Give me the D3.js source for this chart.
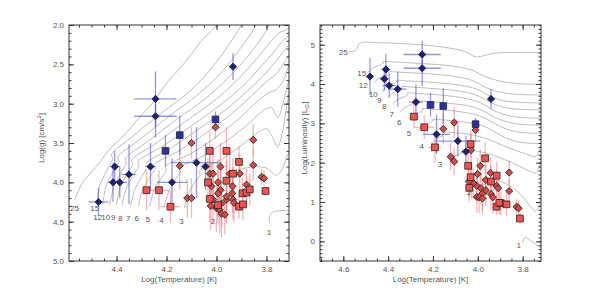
<!DOCTYPE html>
<html>
<head>
<meta charset="utf-8">
<script src="https://cdn.jsdelivr.net/npm/d3@7/dist/d3.min.js"></script>
<style>
body { margin: 0; background: #fff; }
text { font-family: "Liberation Sans", Arial, sans-serif; fill: #555; }
</style>
</head>
<body>
<svg id="chart" width="598" height="296"></svg>
<script>
// ---- axis ranges and tick labels ----
var tempDomainG = [4.59, 3.71];
var gravDomain = [2.0, 5.0];
var tempDomainL = [4.704, 3.718];
var lumDomain = [-0.5, 5.5];
var tempTicksG = [4.4, 4.2, 4.0, 3.8];
var gravTicks = [2.0, 2.5, 3.0, 3.5, 4.0, 4.5, 5.0];
var tempTicksL = [4.6, 4.4, 4.2, 4.0, 3.8];
var lumTicks = [0, 1, 2, 3, 4, 5];

// ---- evolutionary tracks (solar masses) ----
var trackMasses = ["25", "15", "12", "10", "9", "8", "7", "6", "5", "4", "3", "2", "1"];

// log T , log g
var tracksG = [
  [[4.567,4.22],[4.535,4.00],[4.48,3.80],[4.43,3.59],[4.36,3.37],[4.31,3.18],[4.255,2.99],[4.20,2.74],[4.135,2.51],[4.067,2.23],[4.0,2.0],[3.95,1.8]],
  [[4.478,4.27],[4.465,4.02],[4.43,3.80],[4.415,3.70],[4.42,3.65],[4.33,3.40],[4.22,3.12],[4.11,2.85],[4.02,2.55],[3.95,2.25],[3.90,2.0],[3.87,1.85]],
  [[4.455,4.28],[4.44,4.03],[4.405,3.82],[4.39,3.73],[4.395,3.68],[4.30,3.44],[4.19,3.16],[4.08,2.90],[3.98,2.60],[3.91,2.32],[3.85,2.05],[3.83,1.9]],
  [[4.427,4.29],[4.41,4.05],[4.375,3.84],[4.36,3.75],[4.365,3.70],[4.27,3.47],[4.16,3.20],[4.05,2.95],[3.95,2.66],[3.87,2.38],[3.81,2.12],[3.79,2.0],[3.78,1.9]],
  [[4.401,4.29],[4.385,4.06],[4.35,3.85],[4.335,3.77],[4.34,3.72],[4.24,3.50],[4.13,3.24],[4.02,2.99],[3.92,2.71],[3.84,2.43],[3.78,2.20],[3.75,2.10],[3.72,2.06],[3.70,2.0]],
  [[4.378,4.29],[4.36,4.07],[4.325,3.87],[4.31,3.79],[4.315,3.74],[4.21,3.53],[4.10,3.28],[3.99,3.03],[3.89,2.76],[3.82,2.52],[3.77,2.34],[3.74,2.22],[3.72,2.16],[3.70,2.1]],
  [[4.344,4.30],[4.325,4.08],[4.29,3.88],[4.275,3.80],[4.28,3.76],[4.18,3.56],[4.07,3.32],[3.96,3.07],[3.87,2.82],[3.80,2.60],[3.76,2.45],[3.73,2.33],[3.71,2.25]],
  [[4.312,4.30],[4.295,4.09],[4.26,3.90],[4.245,3.82],[4.25,3.78],[4.15,3.60],[4.04,3.37],[3.94,3.13],[3.86,2.90],[3.80,2.72],[3.76,2.62],[3.73,2.48],[3.71,2.38]],
  [[4.267,4.31],[4.25,4.10],[4.215,3.92],[4.20,3.84],[4.205,3.80],[4.10,3.63],[4.00,3.42],[3.91,3.19],[3.84,2.98],[3.79,2.86],[3.76,2.82],[3.735,2.72],[3.715,2.55],[3.70,2.45]],
  [[4.21,4.31],[4.19,4.11],[4.16,3.94],[4.145,3.86],[4.15,3.82],[4.05,3.66],[3.95,3.45],[3.87,3.25],[3.81,3.08],[3.78,3.05],[3.765,3.13],[3.755,3.18],[3.745,3.12],[3.73,2.95],[3.715,2.75],[3.70,2.6]],
  [[4.129,4.33],[4.11,4.13],[4.08,3.97],[4.065,3.90],[4.07,3.86],[3.98,3.71],[3.90,3.53],[3.84,3.38],[3.80,3.32],[3.78,3.40],[3.765,3.50],[3.755,3.55],[3.745,3.48],[3.73,3.25],[3.715,2.95],[3.70,2.75]],
  [[4.0,4.35],[3.985,4.15],[3.96,3.99],[3.95,3.92],[3.955,3.88],[3.90,3.83],[3.84,3.80],[3.80,3.82],[3.775,3.88],[3.76,3.91],[3.745,3.87],[3.73,3.78],[3.715,3.65],[3.70,3.55]],
  [[3.789,4.52],[3.787,4.42],[3.78,4.39],[3.767,4.37],[3.734,4.36],[3.70,4.35]]
];

// log T , log L
var tracksL = [
  [[4.578,4.82],[4.55,4.84],[4.54,4.90],[4.53,5.02],[4.515,5.06],[4.45,5.05],[4.35,5.03],[4.17,4.95],[4.06,4.83],[4.01,4.69],[3.98,4.71],[3.93,4.78],[3.85,4.80],[3.70,4.80]],
  [[4.49,4.30],[4.47,4.40],[4.43,4.50],[4.42,4.54],[4.425,4.57],[4.38,4.56],[4.25,4.52],[4.12,4.46],[4.03,4.36],[3.97,4.20],[3.90,4.07],[3.82,4.01],[3.70,3.99]],
  [[4.463,4.03],[4.445,4.13],[4.405,4.24],[4.395,4.28],[4.40,4.31],[4.35,4.30],[4.22,4.26],[4.10,4.19],[4.02,4.08],[3.96,3.90],[3.89,3.78],[3.80,3.73],[3.70,3.72]],
  [[4.427,3.80],[4.41,3.91],[4.37,4.02],[4.36,4.06],[4.365,4.09],[4.32,4.08],[4.20,4.04],[4.08,3.97],[4.0,3.86],[3.95,3.70],[3.88,3.57],[3.80,3.53],[3.70,3.52]],
  [[4.401,3.64],[4.385,3.75],[4.345,3.86],[4.335,3.90],[4.34,3.93],[4.29,3.92],[4.17,3.87],[4.06,3.80],[3.99,3.68],[3.94,3.52],[3.87,3.39],[3.79,3.35],[3.70,3.34]],
  [[4.378,3.49],[4.36,3.59],[4.32,3.70],[4.31,3.74],[4.315,3.77],[4.27,3.76],[4.15,3.71],[4.05,3.63],[3.98,3.50],[3.93,3.33],[3.86,3.19],[3.78,3.14],[3.70,3.13]],
  [[4.344,3.29],[4.327,3.39],[4.29,3.50],[4.28,3.54],[4.285,3.57],[4.24,3.56],[4.13,3.51],[4.03,3.43],[3.97,3.30],[3.92,3.14],[3.85,3.01],[3.77,2.96],[3.70,2.96]],
  [[4.312,3.09],[4.295,3.19],[4.255,3.30],[4.245,3.34],[4.25,3.37],[4.20,3.36],[4.10,3.31],[4.01,3.22],[3.95,3.08],[3.90,2.92],[3.84,2.80],[3.76,2.75],[3.70,2.75]],
  [[4.267,2.81],[4.25,2.92],[4.21,3.03],[4.20,3.07],[4.205,3.10],[4.16,3.09],[4.06,3.03],[3.98,2.94],[3.93,2.80],[3.88,2.64],[3.82,2.53],[3.75,2.49],[3.70,2.49]],
  [[4.21,2.47],[4.19,2.58],[4.155,2.70],[4.145,2.74],[4.15,2.77],[4.10,2.76],[4.02,2.70],[3.95,2.59],[3.89,2.44],[3.83,2.31],[3.78,2.21],[3.755,2.16],[3.745,2.15],[3.735,2.20],[3.725,2.31],[3.715,2.45],[3.71,2.55]],
  [[4.129,2.02],[4.11,2.13],[4.075,2.25],[4.065,2.29],[4.07,2.32],[4.03,2.31],[3.96,2.24],[3.90,2.12],[3.84,1.98],[3.79,1.84],[3.76,1.76],[3.745,1.73],[3.735,1.78],[3.725,1.92],[3.715,2.07],[3.71,2.15]],
  [[4.0,1.29],[3.985,1.40],[3.955,1.52],[3.945,1.56],[3.95,1.59],[3.92,1.57],[3.87,1.45],[3.82,1.25],[3.785,1.03],[3.76,0.85],[3.745,0.76],[3.735,0.80],[3.725,0.97],[3.715,1.20],[3.71,1.35]],
  [[3.80,-0.035],[3.795,0.05],[3.79,0.10],[3.78,0.08],[3.765,0.02],[3.75,-0.04],[3.73,-0.12],[3.71,-0.19]]
];

// where the mass labels sit
var labelPosG = [[4.568,4.33],[4.487,4.33],[4.475,4.44],[4.443,4.44],[4.413,4.44],[4.385,4.45],[4.353,4.45],[4.319,4.46],[4.275,4.47],[4.22,4.48],[4.14,4.50],[4.014,4.49],[3.79,4.64]];
var labelPosL = [[4.60,4.82],[4.518,4.27],[4.511,3.97],[4.466,3.75],[4.44,3.59],[4.417,3.44],[4.384,3.24],[4.35,3.04],[4.307,2.76],[4.25,2.42],[4.169,1.97],[4.038,1.24],[3.817,-0.11]];

// ---- stars: log T, value, error in log T, error in value ----
var blueDiamondsG = [
  [3.934,2.53,0.015,0.17],[4.244,2.94,0.085,0.35],[4.244,3.16,0.085,0.27],[4.407,3.80,0.02,0.2],
  [4.414,4.00,0.02,0.25],[4.387,4.00,0.03,0.2],[4.350,3.90,0.03,0.38],[4.472,4.25,0.04,0.18],
  [4.264,3.80,0.02,0.3],[4.178,4.00,0.06,0.3],[4.080,3.75,0.10,0.45],[4.044,3.80,0.02,0.3]
];
var blueSquaresG = [[4.204,3.60,0.015,0.2],[4.147,3.40,0,0.25],[4.004,3.20,0,0.1]];
var redSquaresG = [
  [4.28,4.10,0,0.25],[4.23,4.10,0.04,0.25],[4.184,4.31,0.04,0.2],[4.027,3.60,0,0.25],
  [4.034,4.00,0,0.3],[4.027,4.21,0,0.3],[3.994,4.29,0,0.25],[3.960,3.60,0,0.3],
  [3.960,3.98,0,0.25],[3.934,3.89,0,0.2],[3.910,3.74,0,0.2],[3.910,4.31,0,0.15],
  [3.896,4.14,0,0.2],[3.880,4.13,0,0.2],[3.867,4.09,0,0.2],[3.804,4.11,0,0.05],[3.894,4.28,0,0.2]
];
var redDiamondsG = [
  [4.117,4.20,0,0.25],[4.100,4.20,0,0.25],[4.100,3.50,0,0.2],[4.147,3.79,0,0.3],
  [4.004,3.30,0,0.15],[4.027,3.89,0,0.3],[4.014,3.89,0,0.3],[4.020,4.05,0,0.3],
  [3.994,4.00,0,0.3],[3.984,3.80,0,0.3],[3.984,4.10,0,0.3],[4.014,4.22,0,0.3],
  [4.023,4.30,0,0.3],[4.000,4.33,0,0.3],[3.987,4.35,0,0.3],[3.980,4.40,0,0.3],
  [3.967,4.41,0,0.25],[3.960,4.22,0,0.3],[3.960,4.18,0,0.3],[3.947,3.89,0,0.3],
  [3.936,4.05,0,0.25],[3.937,4.14,0,0.25],[3.907,3.89,0,0.25],[3.934,4.22,0,0.25],
  [3.930,4.26,0,0.25],[3.980,4.27,0,0.3],[3.880,4.03,0,0.2],[3.853,3.46,0,0.2],
  [3.853,3.78,0,0.2],[3.820,3.93,0,0.1],[3.810,3.95,0,0.1],[3.994,4.14,0,0.3]
];

var blueDiamondsL = [
  [4.248,4.75,0.083,0.35],[4.248,4.40,0.083,0.45],[4.481,4.19,0.015,0.47],[4.417,4.13,0.02,0.3],
  [4.410,4.37,0.02,0.4],[4.395,3.96,0.03,0.3],[4.357,3.87,0.04,0.45],[4.276,3.54,0.03,0.45],
  [4.184,2.72,0.06,0.5],[4.089,2.55,0.10,0.4],[4.053,2.28,0.02,0.4],[3.941,3.62,0.015,0.25]
];
var blueSquaresL = [[4.211,3.47,0,0.3],[4.154,3.44,0,0.45],[4.010,2.98,0,0.15]];
var redSquaresL = [
  [4.285,3.17,0,0.3],[4.239,2.90,0.045,0.3],[4.191,2.39,0.03,0.4],[4.032,2.47,0,0.35],
  [4.043,1.92,0,0.4],[3.967,2.11,0,0.4],[4.032,1.63,0,0.4],[4.038,1.36,0,0.35],
  [3.941,1.52,0,0.4],[3.916,1.67,0,0.35],[3.916,0.88,0,0.2],[3.897,0.97,0,0.3],
  [3.872,0.94,0,0.3],[3.904,0.98,0,0.3],[3.812,0.58,0,0.15]
];
var redDiamondsL = [
  [4.154,2.86,0,0.4],[4.105,3.02,0,0.4],[4.010,2.83,0,0.3],[4.030,2.32,0,0.4],
  [4.121,2.15,0,0.35],[4.105,2.03,0,0.35],[3.989,1.92,0,0.4],[4.001,1.71,0,0.4],
  [4.028,1.52,0,0.45],[3.943,1.74,0,0.4],[3.964,1.56,0,0.4],[3.916,1.41,0,0.4],
  [3.909,1.35,0,0.4],[3.941,1.20,0,0.4],[3.933,1.12,0,0.4],[3.860,1.75,0,0.3],
  [3.860,1.28,0,0.3],[3.827,0.88,0,0.2],[3.818,0.84,0,0.2],[4.005,1.41,0,0.4],
  [3.986,1.35,0,0.4],[3.979,1.22,0,0.4],[3.964,1.30,0,0.4],[4.004,1.13,0,0.4],
  [3.994,1.12,0,0.4],[3.979,1.09,0,0.4],[4.020,1.48,0,0.4],[4.040,1.52,0,0.4]
];

var svg = d3.select("#chart");
svg.append("rect").attr("width", 598).attr("height", 296).attr("fill", "#fff");
var defs = svg.append("defs");

//draws one panel: tracks, labels, stars, frame and axes
function drawPanel(p) {
  var x = d3.scaleLinear().domain(p.xDomain).range([p.left, p.right]);
  var y = d3.scaleLinear().domain(p.yDomain).range(p.yRange);
  var top = Math.min(p.yRange[0], p.yRange[1]), bottom = Math.max(p.yRange[0], p.yRange[1]);

  defs.append("clipPath").attr("id", p.id + "-clip").append("rect")
      .attr("x", p.left).attr("y", top)
      .attr("width", p.right - p.left).attr("height", bottom - top);

  var plot = svg.append("g").attr("clip-path", "url(#" + p.id + "-clip)");

  var line = d3.line()
      .x(function(d){ return x(d[0]); })
      .y(function(d){ return y(d[1]); })
      .curve(d3.curveCatmullRom.alpha(0.5));

  plot.selectAll("path.track").data(p.tracks).enter().append("path")
      .attr("class", "track")
      .attr("d", line)
      .attr("fill", "none")
      .attr("stroke", "#b4b4b4")
      .attr("stroke-width", 0.9);

  svg.append("g").selectAll("text").data(p.labels).enter().append("text")
      .attr("x", function(d){ return x(d[0]); })
      .attr("y", function(d){ return y(d[1]); })
      .attr("dy", "0.35em")
      .attr("text-anchor", "middle")
      .attr("font-size", 8)
      .text(function(d, i){ return trackMasses[i]; });

  //error bars first, stars on top
  function errorBars(data, colour) {
    var eb = plot.append("g").attr("stroke", colour).attr("stroke-width", 1.3);
    eb.selectAll("line.v").data(data).enter().append("line")
      .attr("x1", function(d){ return x(d[0]); }).attr("x2", function(d){ return x(d[0]); })
      .attr("y1", function(d){ return y(d[1] - d[3]); }).attr("y2", function(d){ return y(d[1] + d[3]); });
    eb.selectAll("line.h").data(data.filter(function(d){ return d[2] > 0; })).enter().append("line")
      .attr("y1", function(d){ return y(d[1]); }).attr("y2", function(d){ return y(d[1]); })
      .attr("x1", function(d){ return x(d[0] - d[2]); }).attr("x2", function(d){ return x(d[0] + d[2]); });
  }
  errorBars(p.redSquares, "rgba(236,110,110,0.5)");
  errorBars(p.redDiamonds, "rgba(236,110,110,0.5)");
  errorBars(p.blueDiamonds, "rgba(80,80,205,0.6)");
  errorBars(p.blueSquares, "rgba(80,80,205,0.6)");

  function markers(data, size, angle, fill) {
    var sym = d3.symbol().type(d3.symbolSquare).size(size);
    plot.append("g").selectAll("path").data(data).enter().append("path")
      .attr("d", sym)
      .attr("transform", function(d){ return "translate(" + x(d[0]) + "," + y(d[1]) + ") rotate(" + angle + ")"; })
      .attr("fill", fill)
      .attr("stroke", "#222")
      .attr("stroke-width", 0.8);
  }
  markers(p.redDiamonds, 26, 45, "#d34a47");
  markers(p.redSquares, 46, 0, "#ef5350");
  markers(p.blueSquares, 44, 0, "#2b2fae");
  markers(p.blueDiamonds, 26, 45, "#1c1f80");

  //frame
  svg.append("rect")
      .attr("x", p.left).attr("y", top)
      .attr("width", p.right - p.left).attr("height", bottom - top)
      .attr("fill", "none").attr("stroke", "#333").attr("stroke-width", 1);

  //axes with inward ticks
  var minorX = d3.range(3.70, 4.75, 0.05).filter(function(v){ return v <= p.xDomain[0] && v >= p.xDomain[1]; });
  var yLo = Math.min(p.yDomain[0], p.yDomain[1]), yHi = Math.max(p.yDomain[0], p.yDomain[1]);
  var minorY = d3.range(yLo, yHi + 0.001, 0.1);

  function addAxis(axis, tx, ty, fmt, vals, len) {
    var a = axis.tickValues(vals).tickSize(-len).tickSizeOuter(0).tickPadding(5);
    a.tickFormat(fmt);
    var ag = svg.append("g").attr("transform", "translate(" + tx + "," + ty + ")").call(a);
    ag.select(".domain").remove();
    ag.selectAll(".tick line").attr("stroke", "#333");
    ag.selectAll("text").attr("font-size", 8).attr("font-family", "Liberation Sans, Arial, sans-serif").attr("fill", "#555");
    return ag;
  }
  var none = function(){ return ""; };
  addAxis(d3.axisBottom(x), 0, bottom, p.xFormat, p.xTicks, 5);
  addAxis(d3.axisBottom(x), 0, bottom, none, minorX, 2.5);
  addAxis(d3.axisTop(x), 0, top, none, p.xTicks, 5);
  addAxis(d3.axisTop(x), 0, top, none, minorX, 2.5);
  addAxis(d3.axisLeft(y), p.left, 0, p.yFormat, p.yTicks, 5);
  addAxis(d3.axisLeft(y), p.left, 0, none, minorY, 2.5);
  addAxis(d3.axisRight(y), p.right, 0, none, p.yTicks, 5);
  addAxis(d3.axisRight(y), p.right, 0, none, minorY, 2.5);

  //axis titles
  svg.append("text")
      .attr("x", (p.left + p.right) / 2).attr("y", 282)
      .attr("text-anchor", "middle").attr("font-size", 8)
      .text("Log(Temperature)  [K]");
  var yt = svg.append("text")
      .attr("transform", "translate(" + p.yTitleX + ",138) rotate(-90)")
      .attr("text-anchor", "middle").attr("font-size", 8);
  p.yTitle(yt);
}

drawPanel({
  id: "grav",
  left: 69, right: 289, yRange: [25, 261],
  xDomain: tempDomainG, yDomain: gravDomain,
  xTicks: tempTicksG, yTicks: gravTicks,
  xFormat: d3.format(".1f"), yFormat: d3.format(".1f"),
  tracks: tracksG, labels: labelPosG,
  blueDiamonds: blueDiamondsG, blueSquares: blueSquaresG,
  redSquares: redSquaresG, redDiamonds: redDiamondsG,
  yTitleX: 44,
  yTitle: function(t) {
    t.append("tspan").text("Log(g)  [cm/s");
    t.append("tspan").attr("font-size", 6).attr("dy", -3).text("2");
    t.append("tspan").attr("dy", 3).text("]");
  }
});

drawPanel({
  id: "lum",
  left: 320, right: 541, yRange: [261, 25],
  xDomain: tempDomainL, yDomain: lumDomain,
  xTicks: tempTicksL, yTicks: lumTicks,
  xFormat: d3.format(".1f"), yFormat: d3.format("d"),
  tracks: tracksL, labels: labelPosL,
  blueDiamonds: blueDiamondsL, blueSquares: blueSquaresL,
  redSquares: redSquaresL, redDiamonds: redDiamondsL,
  yTitleX: 307,
  yTitle: function(t) {
    t.append("tspan").text("Log(Luminosity)  [L");
    t.append("tspan").attr("font-size", 6).attr("dy", 2).text("\u2299");
    t.append("tspan").attr("dy", -2).text("]");
  }
});
</script>
</body>
</html>
